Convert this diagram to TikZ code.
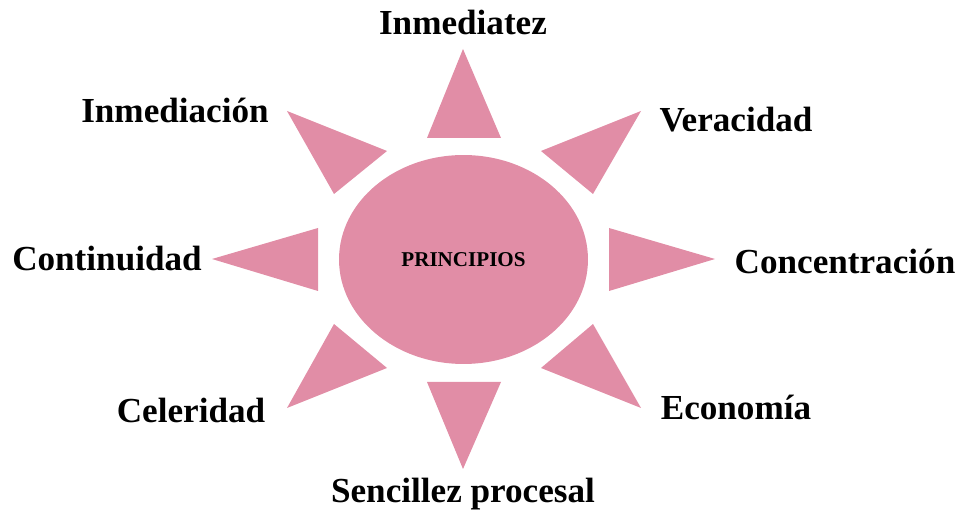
\documentclass[tikz,border=0pt]{standalone}
\usepackage{fontspec}
\setmainfont{Liberation Serif}
\usetikzlibrary{shapes.geometric}

\definecolor{rosa}{RGB}{225,141,166}

\tikzset{
    rayo/.style={fill=rosa},
    etiqueta/.style={font=\fontsize{20}{24}\selectfont\bfseries, inner sep=0pt}
}

\begin{document}
\begin{tikzpicture}[x=0.02cm, y=-0.02cm]
    \useasboundingbox (0, 0) rectangle (964, 516);

    % Central ellipse
    \node[ellipse, fill=rosa, minimum width=4.98cm, minimum height=4.18cm, inner sep=0pt,
          font=\fontsize{12}{14}\selectfont\bfseries] (principios) at (463.5, 259.5) {PRINCIPIOS};

    % Rays around the ellipse
    \fill[rayo] (463, 49) -- (501, 138) -- (427, 138) -- cycle;
    \fill[rayo] (641, 111) -- (593, 194) -- (541, 151) -- cycle;
    \fill[rayo] (715, 259) -- (609, 291) -- (609, 228) -- cycle;
    \fill[rayo] (641, 408) -- (541, 368) -- (593, 324) -- cycle;
    \fill[rayo] (463, 469) -- (427, 382) -- (501, 382) -- cycle;
    \fill[rayo] (287, 408) -- (334, 324) -- (387, 368) -- cycle;
    \fill[rayo] (212, 259) -- (318, 228) -- (318, 291) -- cycle;
    \fill[rayo] (287, 111) -- (387, 151) -- (334, 194) -- cycle;

    % Labels
    \node[etiqueta] (inmediatez) at (463, 22) {Inmediatez};
    \node[etiqueta] (veracidad) at (736, 120) {Veracidad};
    \node[etiqueta] (concentracion) at (845, 261) {Concentración};
    \node[etiqueta] (economia) at (736, 407) {Economía};
    \node[etiqueta] (sencillez) at (463, 494) {Sencillez procesal};
    \node[etiqueta] (celeridad) at (191, 410) {Celeridad};
    \node[etiqueta] (continuidad) at (107, 259) {Continuidad};
    \node[etiqueta] (inmediacion) at (175, 110) {Inmediación};
\end{tikzpicture}
\end{document}
